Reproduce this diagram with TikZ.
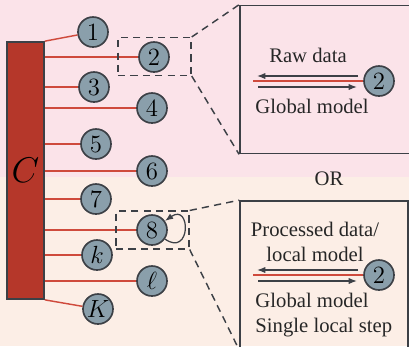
\documentclass[tikz,border=0pt]{standalone}
\usepackage[no-math]{fontspec}
\setmainfont{Liberation Serif}
\usetikzlibrary{arrows.meta,positioning}
\definecolor{bgtop}{HTML}{FBE3E9}
\definecolor{bgbot}{HTML}{FCEEE6}
\definecolor{srvred}{HTML}{B5372A}
\definecolor{linkred}{HTML}{CF4A3C}
\definecolor{usrfill}{HTML}{8A9FAB}
\definecolor{edgegray}{HTML}{3C4046}

\begin{document}
\begin{tikzpicture}[x=0.017cm, y=-0.017cm,
    usr/.style={circle, draw=edgegray, line width=0.8pt, fill=usrfill,
      minimum size=0.51cm, inner sep=0pt, font=\large},
    server/.style={draw=edgegray, line width=0.8pt, fill=srvred,
      minimum width=0.629cm, minimum height=4.369cm, inner sep=0pt, font=\LARGE},
    link/.style={linkred, line width=0.7pt},
    zoombox/.style={draw=edgegray, dash pattern=on 3.5pt off 2.5pt, line width=0.7pt,
      minimum width=1.241cm, minimum height=0.64cm},
    zoomline/.style={edgegray, dash pattern=on 3.5pt off 2.5pt, line width=0.7pt},
    panel/.style={draw=edgegray, line width=0.8pt, minimum height=2.516cm},
    flow/.style={edgegray, line width=0.6pt, -{Latex[length=4pt,width=3pt]}},
    txt/.style={text=black!85, inner sep=1pt}]
    \useasboundingbox (0,0) rectangle (409,346);
    \clip (0,0) rectangle (409,346);
    % background
    \fill[bgtop] (0,0) rectangle (409,177);
    \fill[bgbot] (0,177) rectangle (409,346);
    % server and clients
    \node[server] (srv) at (25.5,170.5) {$C$};
    \node[usr] (n1) at (93,32) {$1$};
    \node[usr] (n2) at (154,57) {$2$};
    \node[usr] (n3) at (94,87) {$3$};
    \node[usr] (n4) at (152,108) {$4$};
    \node[usr] (n5) at (96,144) {$5$};
    \node[usr] (n6) at (152,171) {$6$};
    \node[usr] (n7) at (96,199) {$7$};
    \node[usr] (n8) at (152,230) {$8$};
    \node[usr] (nk) at (97,255) {$k$};
    \node[usr] (nl) at (152,281) {$\ell$};
    \node[usr] (nK) at (98,309) {$K$};
    \draw[link] (srv.north east) -- (n1);
    \foreach \n in {2,3,4,5,6,7,8,k,l}
      \draw[link] (srv.east |- n\n) -- (n\n);
    \draw[link] (srv.south east) -- (nK);
    \draw[flow] (n8.-35) to[out=-35, in=35, looseness=4.5] (n8.35);
    % zoom boxes
    \node[zoombox] (z2) at (154.5,56.5) {};
    \node[zoombox] (z8) at (152.5,230) {};
    \node[panel, minimum width=2.96cm] (p1) at (327,79.5) {};
    \node[panel, minimum width=2.856cm] (p2) at (324,275) {};
    \draw[zoomline] (z2.north east) -- (p1.north west);
    \draw[zoomline] (z2.south east) -- (p1.south west);
    \draw[zoomline] (z8.north east) -- (p2.north west);
    \draw[zoomline] (z8.south east) -- (p2.south west);
    \node[txt] (or) at (329,179) {OR};
    % upper panel: raw data
    \node[usr] (q1) at (379,81) {$2$};
    \coordinate (r1) at (253,81);
    \coordinate (a1s) at (358,76);
    \coordinate (a1e) at (257,76);
    \coordinate (b1s) at (258,87);
    \coordinate (b1e) at (357,87);
    \draw[link] (r1) -- (q1);
    \draw[flow] (a1s) -- (a1e);
    \draw[flow] (b1s) -- (b1e);
    \node[txt] (raw) at (308,55) {Raw data};
    \node[txt, anchor=west] (glob1) at (253,106) {Global model};
    % lower panel: processed data
    \node[usr] (q2) at (379,275) {$2$};
    \coordinate (r2) at (253,275);
    \coordinate (a2s) at (358,270);
    \coordinate (a2e) at (257,270);
    \coordinate (b2s) at (258,281);
    \coordinate (b2e) at (357,281);
    \draw[link] (r2) -- (q2);
    \draw[flow] (a2s) -- (a2e);
    \draw[flow] (b2s) -- (b2e);
    \node[txt, align=center] (proc) at (315,242) {Processed data/\\local model};
    \node[txt, anchor=west] (glob2) at (253,300) {Global model};
    \node[txt, anchor=west] (single) at (253,328) {Single local step};
\end{tikzpicture}
\end{document}
